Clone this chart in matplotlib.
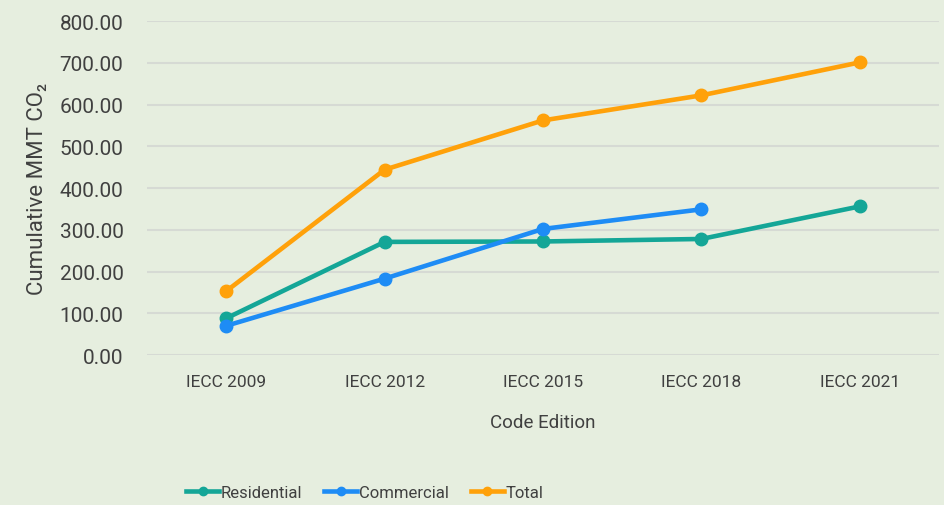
import matplotlib
matplotlib.use('Agg')
import matplotlib.pyplot as plt
from matplotlib.lines import Line2D

plt.rcParams['font.family'] = ['Roboto', 'DejaVu Sans']

editions = ['IECC 2009', 'IECC 2012', 'IECC 2015', 'IECC 2018', 'IECC 2021']
residential = [88, 271, 272, 278, 356]
commercial = [70, 183, 302, 349]
total = [153, 444, 562, 622, 701]

teal = '#14a697'
blue = '#1e8cf5'
orange = '#ffa10a'
bg = '#e6eedf'
txt = '#404040'

fig = plt.figure(figsize=(9.45, 5.06), dpi=100, facecolor=bg)
ax = fig.add_axes([0.1556, 0.2964, 0.838, 0.660], facecolor=bg)

x = list(range(len(editions)))
ax.plot(x, residential, color=teal, lw=3.3, marker='o', ms=9, solid_capstyle='round')
ax.plot(x[:len(commercial)], commercial, color=blue, lw=3.3, marker='o', ms=9, solid_capstyle='round')
ax.plot(x, total, color=orange, lw=3.3, marker='o', ms=9, solid_capstyle='round')

ax.set_xlim(-0.5, len(editions) - 0.5)
ax.set_ylim(0, 800)
ax.set_yticks(range(0, 801, 100))
ax.set_yticklabels(['%.2f' % v for v in range(0, 801, 100)])
ax.set_xticks(x)
ax.set_xticklabels(editions)
ax.grid(axis='y', color='#d6dad4', lw=1.5)
ax.set_axisbelow(True)
for s in ax.spines.values():
    s.set_visible(False)
ax.tick_params(axis='y', length=0, pad=17, labelsize=15, labelcolor=txt)
ax.tick_params(axis='x', length=0, pad=14, labelsize=12.5, labelcolor=txt)

ax.set_xlabel('Code Edition', fontsize=13.5, color=txt, labelpad=17)
ax.set_ylabel('Cumulative MMT CO\u2082', fontsize=16, color=txt, labelpad=8)

handles = [Line2D([], [], color=c, lw=3.3, marker='o', ms=6) for c in (teal, blue, orange)]
fig.legend(handles, ['Residential', 'Commercial', 'Total'], loc='center',
           bbox_to_anchor=(0.386, 0.025), ncol=3, frameon=False, fontsize=12,
           handlelength=2.0, handletextpad=0.1, columnspacing=1.3,
           labelcolor=txt)

fig.savefig('out.png', dpi=100, facecolor=bg)
